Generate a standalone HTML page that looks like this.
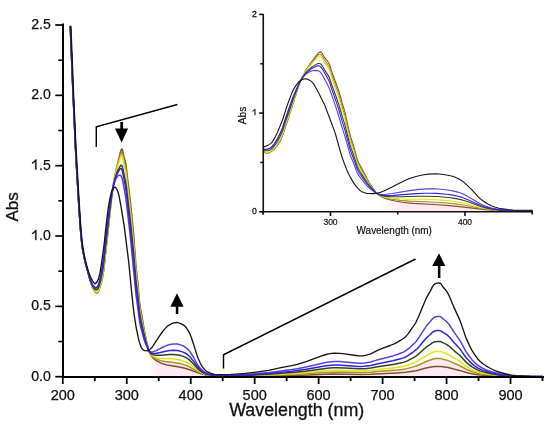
<!DOCTYPE html>
<html><head><meta charset="utf-8">
<style>
html,body{margin:0;padding:0;background:#fff;}
body{width:550px;height:426px;overflow:hidden;position:relative;font-family:"Liberation Sans",sans-serif;}
svg{position:absolute;left:0;top:0;will-change:transform;}
.t{font-family:"Liberation Sans",sans-serif;fill:#111;}
</style></head><body>
<svg width="550" height="426" viewBox="0 0 550 426">
<rect width="550" height="426" fill="#fff"/>
<g fill="none" stroke-width="1.5" stroke-linejoin="round" stroke-linecap="round">
<defs><linearGradient id="hzm" gradientUnits="userSpaceOnUse" x1="149.1" y1="0" x2="497.7" y2="0"><stop offset="0" stop-color="#fbe2ee" stop-opacity="0"/><stop offset="0.028" stop-color="#fbe2ee" stop-opacity="0.75"/><stop offset="0.945" stop-color="#fbe2ee" stop-opacity="0.75"/><stop offset="1" stop-color="#fbe2ee" stop-opacity="0"/></linearGradient><linearGradient id="hzi" gradientUnits="userSpaceOnUse" x1="378.9" y1="0" x2="532.2" y2="0"><stop offset="0" stop-color="#fbe2ee" stop-opacity="0"/><stop offset="0.15" stop-color="#fbe2ee" stop-opacity="0.75"/><stop offset="0.8" stop-color="#fbe2ee" stop-opacity="0.75"/><stop offset="1" stop-color="#fbe2ee" stop-opacity="0"/></linearGradient></defs><path d="M149.1 376.7L149.1 351.6L151.1 354.9L152.3 356.5L154.9 358.2L158.1 359.7L163.9 361.4L176.6 362.9L183.0 364.4L189.4 366.8L198.4 371.9L202.9 373.8L207.3 375.0L215.0 375.9L232.9 376.3L267.5 375.5L296.9 374.3L332.1 372.1L360.2 372.6L371.1 372.2L396.7 370.1L406.3 368.8L416.5 365.9L426.1 361.5L432.5 359.2L435.0 358.6L438.2 358.5L440.8 358.6L448.5 360.7L459.4 365.5L467.0 369.6L474.7 372.4L483.7 374.3L497.1 375.7L497.1 376.7 Z" fill="url(#hzm)" stroke="none"/>
<path d="M70.3 26.5L73.0 92.3L75.5 147.7L76.4 164.3L79.1 209.4L80.5 229.5L81.8 243.0L82.5 248.2L83.3 253.1L84.4 258.1L85.6 263.5L87.4 269.7L89.4 278.0L90.6 282.2L92.6 287.6L94.5 291.2L95.0 292.0L96.1 292.7L96.8 293.0L97.3 292.8L97.9 292.1L98.9 290.4L100.2 286.7L101.5 282.1L102.5 277.8L104.1 267.6L105.3 255.3L106.9 241.9L111.4 199.3L112.4 191.2L113.3 184.7L114.6 177.3L115.9 171.0L120.0 153.6L120.7 151.3L121.3 149.6L121.6 149.1L122.0 148.9L122.3 149.3L122.9 151.6L123.9 156.4L125.5 162.5L126.1 165.7L127.7 180.0L130.6 203.6L133.5 233.0L136.0 266.7L138.0 284.6L139.2 299.4L140.2 307.0L145.0 334.1L148.5 349.8L149.5 352.5L151.4 356.0L152.7 357.6L154.9 359.6L157.1 361.0L159.7 362.4L162.3 363.6L164.5 364.3L167.1 364.9L177.9 366.7L183.0 367.8L188.2 369.3L199.4 373.3L205.1 374.9L207.3 375.3L211.5 375.8L218.2 376.2L224.6 376.4L233.6 376.4L267.8 376.0L296.9 375.4L332.1 374.1L360.5 374.4L370.8 374.2L396.7 372.9L405.9 372.3L416.2 370.7L426.1 368.1L432.5 366.8L435.0 366.5L438.2 366.4L441.1 366.5L448.2 367.6L459.4 370.4L465.7 372.3L469.3 373.2L474.7 374.3L480.5 375.1L492.6 375.9L506.0 376.4L516.0 376.6L542.5 376.7" stroke="#7e5232"/>
<path d="M70.3 26.5L73.0 92.3L75.5 147.7L76.4 164.3L79.1 209.4L80.5 229.5L81.7 242.5L82.4 247.8L83.3 252.8L84.3 257.8L85.6 263.3L90.5 281.6L92.3 286.7L94.1 290.3L94.8 291.3L95.5 291.9L96.4 292.3L97.1 292.3L97.7 291.7L98.7 290.1L99.7 287.4L101.0 282.9L102.1 278.3L103.1 273.0L104.1 266.4L111.4 199.0L112.4 191.2L113.3 184.8L115.2 174.7L117.5 165.4L120.7 154.0L121.3 152.7L121.6 152.3L122.0 152.3L122.3 152.8L122.9 155.2L123.9 160.2L125.8 168.4L126.4 172.5L127.4 181.8L130.9 211.8L132.2 226.0L133.5 238.4L136.0 271.0L138.0 288.3L139.2 302.5L139.9 307.7L145.0 335.4L148.5 349.9L149.5 352.3L150.7 354.5L152.0 356.2L153.3 357.2L155.2 358.4L157.1 359.3L160.0 360.4L162.6 361.1L165.1 361.6L171.2 362.2L177.0 363.0L180.2 363.6L183.7 364.6L186.2 365.4L189.1 366.7L193.9 369.3L198.1 371.7L200.0 372.6L202.9 373.8L205.4 374.6L207.3 375.0L211.8 375.7L215.7 376.0L223.3 376.2L233.3 376.2L267.8 375.5L296.9 374.3L326.0 372.4L331.8 372.2L339.7 372.1L360.5 372.6L370.8 372.3L377.5 371.6L396.7 370.1L401.8 369.5L405.9 368.9L413.3 366.9L416.2 366.0L418.7 365.0L426.1 361.5L432.5 359.2L435.0 358.6L438.2 358.5L441.1 358.6L442.1 359.0L445.9 359.9L448.2 360.6L459.4 365.5L465.7 369.0L469.3 370.5L472.1 371.6L474.7 372.4L477.6 373.2L480.5 373.8L485.9 374.6L492.6 375.3L498.7 375.8L506.0 376.2L516.0 376.5L542.5 376.7" stroke="#aa9028"/>
<path d="M70.3 26.5L73.0 92.3L75.5 147.7L76.4 164.3L79.1 209.4L80.5 229.5L81.7 242.5L82.4 247.8L83.3 252.8L84.3 257.8L85.6 263.3L90.4 281.4L92.2 286.3L93.9 289.8L94.6 290.8L95.2 291.4L96.2 292.0L97.0 292.0L97.5 291.6L98.2 290.6L98.9 289.3L99.4 287.8L100.7 283.5L101.8 279.0L102.8 274.0L103.7 267.8L111.1 201.4L112.4 191.1L113.3 185.0L115.2 175.4L117.5 166.7L120.4 157.5L121.0 156.1L121.3 155.7L121.6 155.6L122.0 155.7L122.3 156.3L122.9 158.8L123.9 164.0L125.8 172.8L126.4 177.1L130.9 217.1L133.8 247.4L136.0 275.2L138.0 292.0L139.2 305.5L139.9 310.5L140.5 314.3L144.7 335.2L145.6 339.3L148.2 348.8L148.8 350.8L149.8 352.6L151.1 354.4L152.3 355.6L153.9 356.5L155.5 357.2L157.5 357.7L160.0 358.2L163.5 358.6L170.9 358.8L176.0 359.3L180.2 360.1L184.3 361.4L186.9 362.5L189.8 364.1L193.9 367.2L197.8 370.3L199.7 371.6L202.9 373.2L206.7 374.6L211.2 375.4L215.7 375.8L223.3 376.1L233.3 376.1L263.6 375.2L292.7 373.7L304.6 372.8L321.5 371.1L329.8 370.5L337.5 370.3L358.6 371.0L364.7 371.0L370.8 370.5L378.1 369.5L392.5 368.0L401.8 366.7L405.3 366.0L407.5 365.3L413.9 362.9L416.5 361.7L418.7 360.4L426.1 355.6L432.5 352.3L435.0 351.6L437.3 351.4L439.2 351.4L441.1 351.6L442.1 352.1L445.9 353.3L448.2 354.3L454.2 358.1L459.4 361.1L465.7 366.0L469.3 368.2L472.1 369.7L474.7 370.8L477.6 371.8L480.5 372.7L485.9 373.8L492.6 374.8L498.7 375.4L506.0 376.0L516.0 376.4L542.5 376.7" stroke="#e2e214"/>
<path d="M70.3 26.5L73.0 92.3L75.5 147.7L76.4 164.3L79.1 209.4L80.5 229.5L81.7 242.5L82.4 247.8L83.3 252.8L84.3 257.8L85.6 263.3L90.0 279.6L91.6 283.8L93.1 286.9L94.0 288.4L94.7 289.2L95.4 289.7L96.3 289.8L97.0 289.6L97.5 289.1L98.3 287.9L98.9 286.4L100.3 281.9L101.5 276.6L102.8 269.5L103.7 263.2L109.2 215.0L111.7 195.0L113.0 187.3L114.0 182.7L115.2 177.7L116.2 174.7L117.5 171.3L118.1 169.9L120.4 165.9L121.0 165.3L121.3 165.2L121.6 165.4L122.0 165.7L122.3 166.4L122.9 169.0L125.5 181.4L126.4 187.3L130.9 225.9L132.2 239.4L133.5 251.3L136.0 281.3L138.0 297.3L139.2 309.8L139.9 314.5L140.5 318.0L143.4 331.5L145.0 338.3L145.9 341.8L148.2 349.0L148.8 350.7L150.1 352.6L151.7 354.2L152.7 354.6L153.9 355.0L157.1 355.3L161.6 355.2L169.0 354.5L173.8 354.5L177.9 354.9L180.8 355.6L183.4 356.4L185.0 357.1L186.6 357.9L189.8 360.2L193.9 364.4L197.8 368.7L200.6 371.1L202.6 372.3L204.5 373.3L206.4 374.1L208.0 374.5L211.5 375.2L214.4 375.6L221.7 375.9L233.6 375.8L251.8 375.2L268.8 374.3L295.0 372.3L304.9 371.2L321.5 368.9L329.5 368.0L333.7 367.8L337.2 367.8L344.5 368.1L358.6 368.8L361.8 368.8L365.3 368.7L370.8 368.1L377.8 366.8L394.4 364.2L399.2 363.3L402.7 362.5L405.6 361.6L407.9 360.6L413.9 357.4L416.5 355.8L418.7 353.9L426.1 347.2L430.3 344.4L432.5 342.7L433.8 342.1L435.0 341.7L437.3 341.4L439.2 341.4L441.1 341.7L442.1 342.4L445.9 344.1L448.2 345.5L449.8 346.8L454.2 350.8L459.4 355.0L461.0 356.6L465.7 361.8L469.3 364.8L472.1 366.9L474.7 368.4L477.6 369.9L480.5 371.1L485.9 372.6L492.6 374.0L498.7 374.9L506.0 375.7L516.0 376.3L530.0 376.6L542.5 376.6" stroke="#2e4426"/>
<path d="M70.3 26.5L73.0 92.3L75.5 147.7L76.4 164.3L79.0 208.4L80.5 228.6L81.7 241.9L82.4 247.4L83.1 252.1L84.1 257.0L85.4 262.5L89.7 278.2L91.0 281.8L92.5 285.0L94.2 287.2L95.0 287.9L95.5 288.0L96.6 287.7L97.2 287.2L97.9 286.2L98.6 284.8L99.6 281.4L100.9 275.8L102.1 269.2L103.4 261.0L104.1 256.2L105.3 243.8L108.9 213.9L111.1 198.1L112.4 190.5L113.3 186.4L114.6 182.0L115.6 179.5L116.5 177.7L117.8 175.9L118.4 175.5L119.4 175.2L120.0 175.2L120.7 175.5L121.0 175.8L122.0 177.8L122.6 180.3L125.2 194.3L126.4 202.6L130.3 236.5L136.0 294.6L139.6 321.5L140.2 324.9L141.2 328.9L143.1 336.1L144.3 340.3L145.6 343.8L148.2 349.5L148.8 350.5L149.5 351.1L150.4 351.7L151.4 352.0L152.0 352.1L153.0 351.9L156.2 350.6L163.2 347.0L165.8 345.9L168.3 344.9L171.2 344.3L173.8 344.0L177.0 344.1L179.5 344.6L181.8 345.4L184.0 346.3L185.6 347.3L187.5 348.9L189.4 350.9L191.0 353.2L193.9 358.0L198.1 365.5L200.3 368.3L202.6 370.6L205.4 372.6L207.7 373.7L212.5 374.8L216.6 375.3L226.2 375.4L235.8 375.1L253.7 373.9L269.4 372.5L280.9 370.9L291.8 369.6L297.2 368.8L306.2 367.0L325.7 362.5L328.6 362.0L331.4 361.7L335.3 361.5L339.7 361.6L344.5 361.9L359.3 363.3L361.8 363.3L364.7 363.0L370.8 362.0L375.6 360.4L378.1 359.7L392.8 355.9L397.3 354.5L400.5 353.3L403.4 352.1L405.6 350.9L407.9 349.2L413.0 344.6L414.9 342.8L416.2 341.4L418.7 337.8L426.1 326.4L427.4 324.8L430.3 321.6L432.5 318.7L433.8 317.6L435.0 316.9L437.3 316.4L438.9 316.4L440.2 316.6L441.1 316.9L442.1 318.1L445.9 321.0L448.2 323.4L449.8 325.5L454.2 332.4L459.4 339.6L461.0 342.3L465.7 351.2L469.3 356.3L472.1 359.9L474.7 362.6L477.6 365.1L480.5 367.0L483.0 368.4L485.9 369.7L492.6 372.1L498.7 373.7L506.0 375.0L511.5 375.7L516.0 376.0L530.0 376.5L542.5 376.6" stroke="#5e3ee2"/>
<path d="M70.3 26.5L73.0 92.3L75.5 147.7L76.4 164.3L79.1 209.4L80.5 229.5L81.7 242.5L82.4 247.8L83.3 252.8L84.2 257.6L85.5 263.0L89.8 278.4L91.2 282.2L92.7 285.1L94.3 287.2L95.1 287.7L95.7 287.8L96.7 287.4L97.3 287.0L98.0 285.9L98.7 284.4L100.0 280.1L101.0 275.2L102.1 269.3L103.4 261.2L104.1 256.5L105.3 244.2L108.9 214.7L111.1 198.6L112.4 190.6L113.3 186.1L114.6 181.1L115.6 178.1L116.8 174.8L117.8 172.6L119.7 169.4L120.7 168.6L121.0 168.6L121.3 168.8L121.6 169.1L122.3 170.6L122.9 173.4L125.5 186.9L126.4 193.1L130.9 233.1L133.8 262.3L136.0 287.2L138.0 302.5L139.6 316.4L140.5 321.6L142.8 331.3L144.0 336.5L145.3 341.0L148.5 350.0L149.5 351.5L150.7 352.7L151.7 353.3L152.3 353.5L153.6 353.6L155.5 353.5L160.3 352.5L168.0 350.7L170.6 350.4L172.8 350.2L177.3 350.5L179.8 351.1L182.4 351.9L184.3 352.6L185.9 353.5L187.5 354.7L189.4 356.3L191.0 358.1L193.9 361.8L198.1 367.6L200.3 369.8L202.6 371.6L205.1 373.1L207.3 374.0L211.8 375.0L216.0 375.5L224.6 375.7L235.2 375.5L253.1 374.6L269.1 373.5L291.8 371.3L297.2 370.6L306.2 369.3L326.0 365.8L328.6 365.4L331.8 365.2L334.9 365.1L338.5 365.1L344.5 365.4L358.3 366.4L361.2 366.4L364.1 366.3L370.8 365.5L378.1 363.7L392.8 360.8L400.5 358.8L403.4 357.9L405.6 357.0L407.9 355.7L413.0 352.2L416.2 349.7L418.7 346.9L426.1 338.2L430.3 334.5L432.5 332.3L433.8 331.5L435.0 330.9L437.3 330.6L438.9 330.6L441.1 330.9L442.1 331.9L445.9 334.1L448.2 335.9L449.8 337.6L454.2 342.8L459.4 348.3L461.0 350.4L465.7 357.2L469.3 361.1L472.1 363.9L474.7 365.9L477.6 367.8L480.5 369.3L483.0 370.4L485.9 371.3L492.6 373.1L498.7 374.4L506.0 375.4L511.5 375.9L516.0 376.2L530.0 376.5L542.5 376.6" stroke="#3224d8"/>
<path d="M70.9 26.5L73.5 92.3L76.0 147.7L79.3 204.3L80.7 225.3L81.9 239.6L83.2 249.5L85.0 258.7L86.8 266.0L88.3 271.2L90.2 276.2L91.6 279.2L92.5 280.8L94.2 283.2L94.8 283.7L95.2 283.8L95.7 283.4L97.0 281.8L98.2 279.7L98.9 277.5L100.0 272.8L101.5 263.6L104.1 244.8L105.7 229.4L107.9 210.8L108.9 204.1L109.8 199.0L111.4 192.5L112.0 190.5L112.7 189.3L114.0 187.6L114.6 187.2L114.9 187.1L115.6 187.4L116.5 188.7L117.8 191.2L118.4 193.3L119.1 196.2L121.0 206.3L124.2 226.1L128.7 261.9L131.6 291.9L133.2 306.6L134.4 316.3L136.0 326.5L138.3 337.9L138.9 340.5L139.9 343.6L140.8 346.3L141.5 347.6L142.8 349.4L143.7 350.3L144.3 350.5L145.3 350.7L147.5 350.8L148.8 350.2L150.4 349.0L151.4 348.1L152.7 346.4L159.1 336.6L162.3 332.0L164.2 329.6L166.1 327.6L168.7 325.3L171.9 323.5L173.8 322.9L177.0 322.5L177.9 322.7L180.8 323.6L182.7 324.6L184.3 325.6L185.3 326.5L186.2 327.6L188.8 331.6L190.1 334.3L191.4 337.7L194.2 346.2L196.8 354.6L198.1 358.3L200.3 363.3L201.6 365.7L202.6 367.1L205.1 370.1L206.4 371.2L207.3 371.9L211.2 373.4L214.7 374.3L216.9 374.6L222.1 374.6L231.0 374.4L236.1 374.1L245.1 373.4L252.1 372.6L261.4 371.4L268.8 370.3L280.9 367.7L291.8 365.7L297.2 364.4L306.2 361.7L320.2 356.4L326.0 354.5L328.6 353.8L331.8 353.3L335.3 353.1L340.1 353.3L344.5 353.8L356.1 355.5L359.6 355.8L362.8 355.8L366.3 355.2L370.8 353.9L375.6 351.4L378.1 350.2L382.9 348.2L390.3 345.5L393.5 344.1L397.6 342.1L400.8 340.2L403.7 338.3L405.9 336.4L407.9 334.1L413.3 326.4L414.9 324.0L416.2 321.8L418.7 316.3L426.1 298.6L427.4 296.1L430.3 291.1L432.5 286.6L433.8 284.9L435.0 283.8L437.0 283.2L438.6 283.0L439.8 283.2L441.1 283.8L442.1 285.7L443.0 287.0L445.9 290.2L448.2 293.9L449.8 297.3L454.2 307.9L459.4 319.1L461.0 323.3L465.7 337.1L469.3 345.1L472.1 350.7L474.7 354.7L477.6 358.7L479.2 360.5L480.5 361.7L483.0 363.8L485.9 365.8L488.8 367.5L492.6 369.5L495.8 370.9L498.7 372.0L506.0 374.0L511.5 375.1L516.0 375.7L530.0 376.4L542.5 376.6" stroke="#161616" stroke-width="1.35"/>
</g>
<g stroke="#000" stroke-width="2" fill="none">
<line x1="63" y1="23.5" x2="63" y2="378" /><line x1="62" y1="377" x2="544" y2="377" /><line x1="55.3" y1="376.70" x2="63" y2="376.70" stroke-width="1.7"/><line x1="58.3" y1="341.53" x2="63" y2="341.53" stroke-width="1.6"/><line x1="55.3" y1="306.36" x2="63" y2="306.36" stroke-width="1.7"/><line x1="58.3" y1="271.19" x2="63" y2="271.19" stroke-width="1.6"/><line x1="55.3" y1="236.02" x2="63" y2="236.02" stroke-width="1.7"/><line x1="58.3" y1="200.85" x2="63" y2="200.85" stroke-width="1.6"/><line x1="55.3" y1="165.68" x2="63" y2="165.68" stroke-width="1.7"/><line x1="58.3" y1="130.51" x2="63" y2="130.51" stroke-width="1.6"/><line x1="55.3" y1="95.34" x2="63" y2="95.34" stroke-width="1.7"/><line x1="58.3" y1="60.17" x2="63" y2="60.17" stroke-width="1.6"/><line x1="55.3" y1="25.00" x2="63" y2="25.00" stroke-width="1.7"/><line x1="62.80" y1="377" x2="62.80" y2="384" stroke-width="1.8"/><line x1="94.78" y1="377" x2="94.78" y2="381" stroke-width="1.8"/><line x1="126.76" y1="377" x2="126.76" y2="384" stroke-width="1.8"/><line x1="158.74" y1="377" x2="158.74" y2="381" stroke-width="1.8"/><line x1="190.72" y1="377" x2="190.72" y2="384" stroke-width="1.8"/><line x1="222.70" y1="377" x2="222.70" y2="381" stroke-width="1.8"/><line x1="254.68" y1="377" x2="254.68" y2="384" stroke-width="1.8"/><line x1="286.66" y1="377" x2="286.66" y2="381" stroke-width="1.8"/><line x1="318.64" y1="377" x2="318.64" y2="384" stroke-width="1.8"/><line x1="350.62" y1="377" x2="350.62" y2="381" stroke-width="1.8"/><line x1="382.60" y1="377" x2="382.60" y2="384" stroke-width="1.8"/><line x1="414.58" y1="377" x2="414.58" y2="381" stroke-width="1.8"/><line x1="446.56" y1="377" x2="446.56" y2="384" stroke-width="1.8"/><line x1="478.54" y1="377" x2="478.54" y2="381" stroke-width="1.8"/><line x1="510.52" y1="377" x2="510.52" y2="384" stroke-width="1.8"/><line x1="542.50" y1="377" x2="542.50" y2="381" stroke-width="1.8"/>
</g>
<g fill="none" stroke-width="1.1" stroke-linejoin="round" stroke-linecap="round">
<path d="M378.9 211.8L378.9 195.1L383.0 197.1L386.3 198.1L392.4 199.3L401.1 200.4L409.9 201.1L436.8 202.2L451.5 203.4L463.0 205.0L483.2 208.7L496.6 210.4L512.7 211.2L531.6 211.5L531.6 211.8 Z" fill="url(#hzi)" stroke="none"/>
<path d="M263.2 152.1L265.9 152.9L268.0 153.1L269.3 152.7L271.3 151.6L273.0 150.3L275.7 147.5L277.7 145.0L279.4 142.4L281.4 138.4L283.1 134.3L285.4 126.6L287.8 120.2L289.1 116.2L298.2 87.3L299.9 82.6L301.6 78.5L303.3 75.0L305.3 71.3L307.6 67.5L310.3 63.5L317.7 53.6L318.7 52.7L319.4 52.3L320.1 52.0L320.7 52.1L321.4 52.5L322.1 53.3L324.4 57.2L327.8 61.5L329.2 63.8L329.8 65.4L332.5 73.8L338.6 90.4L339.6 93.6L342.3 103.5L343.9 108.7L345.0 112.3L348.7 129.1L350.0 134.6L351.0 138.0L354.0 147.2L356.7 157.6L357.7 160.6L359.4 164.2L362.1 169.1L366.8 178.3L369.2 182.5L375.9 192.5L376.9 193.7L378.2 194.8L380.6 196.3L383.0 197.6L385.0 198.4L388.0 199.3L391.7 200.3L396.4 201.2L402.5 202.2L407.5 202.9L413.6 203.4L437.8 204.7L448.9 205.6L459.3 206.6L483.2 209.4L496.3 210.6L512.4 211.3L532.2 211.6" stroke="#7e5232"/>
<path d="M263.2 151.8L265.9 152.5L268.0 152.6L269.3 152.2L271.3 151.1L273.0 149.8L275.4 147.3L277.4 144.8L279.1 142.2L281.1 138.4L283.1 133.5L285.1 126.8L288.8 116.4L293.2 102.5L297.9 88.1L299.9 82.5L301.6 78.6L303.6 74.6L305.6 71.1L308.0 67.6L310.3 64.4L317.4 55.9L318.4 55.0L319.1 54.6L319.7 54.4L320.4 54.4L321.1 54.7L322.1 55.9L324.8 60.4L328.1 65.1L329.2 66.9L329.8 68.6L331.8 75.0L337.9 92.0L339.2 96.1L342.3 107.3L345.0 116.0L348.7 132.3L350.0 137.6L351.0 140.9L354.0 149.8L356.7 159.7L357.7 162.6L359.4 166.1L362.1 170.8L365.8 177.6L368.8 182.8L370.5 185.3L375.9 192.6L376.6 193.3L377.6 194.2L379.3 195.3L381.6 196.5L383.3 197.3L385.0 197.8L388.0 198.5L391.7 199.2L400.4 200.4L409.9 201.1L436.8 202.2L451.2 203.4L456.9 204.1L463.0 205.0L483.5 208.8L490.2 209.7L496.9 210.4L503.7 210.8L513.1 211.2L532.2 211.5" stroke="#aa9028"/>
<path d="M263.2 151.7L265.9 152.3L268.0 152.4L269.3 152.0L271.3 150.8L273.0 149.5L275.4 146.9L277.0 144.7L278.7 142.2L280.7 138.4L282.8 133.7L285.4 125.0L288.5 116.6L293.2 101.8L297.5 88.8L299.6 83.2L301.6 78.7L303.6 74.8L305.6 71.6L308.0 68.2L310.7 64.8L315.7 59.4L317.4 57.7L318.4 57.0L319.1 56.8L319.7 56.7L320.4 56.7L321.1 57.1L322.1 58.4L324.8 63.1L328.1 68.1L329.2 70.1L329.8 71.7L331.8 78.2L337.6 94.6L339.2 99.8L342.3 111.0L345.0 119.7L348.7 135.4L350.0 140.6L351.0 143.8L354.0 152.4L356.4 160.8L357.4 163.8L359.4 168.0L365.5 178.3L368.5 183.2L370.5 186.0L375.6 192.2L376.6 193.3L377.2 193.9L378.6 194.7L380.6 195.7L383.6 196.9L387.3 197.6L392.4 198.2L399.8 198.8L405.8 199.1L424.0 199.3L436.1 199.7L445.2 200.4L453.6 201.3L458.6 202.1L463.7 203.1L472.1 205.2L479.1 207.2L482.8 208.0L489.2 209.2L495.6 210.0L501.0 210.5L512.1 211.0L532.2 211.4" stroke="#e2e214"/>
<path d="M263.2 150.5L264.9 150.8L267.3 150.8L268.6 150.5L270.0 149.9L271.7 148.8L272.7 147.8L274.7 145.4L276.7 142.6L278.0 140.4L279.7 137.3L282.4 131.3L283.4 128.4L285.4 121.8L288.5 113.3L293.5 98.4L298.2 86.0L299.6 82.8L300.9 80.1L302.9 76.7L304.9 73.9L307.3 71.1L309.7 68.8L312.0 66.9L316.7 64.1L318.4 63.5L319.7 63.5L320.7 64.0L321.4 64.7L322.1 65.6L324.4 69.6L328.1 75.4L329.2 77.3L329.8 78.9L331.8 85.0L336.6 98.0L338.9 104.9L342.3 116.6L345.0 125.1L348.7 140.0L350.0 144.8L351.0 147.9L354.0 156.1L356.4 163.9L357.4 166.7L358.4 168.8L359.8 171.2L365.1 179.6L367.8 183.5L370.5 186.9L375.6 192.4L376.9 193.6L379.3 194.8L382.6 195.9L385.0 196.3L389.0 196.6L393.7 196.8L401.1 196.8L418.9 196.2L428.0 196.2L437.4 196.5L448.5 197.5L454.9 198.4L462.0 199.9L467.4 201.6L480.8 206.5L486.9 208.1L492.6 209.2L499.6 210.1L509.7 210.8L518.1 211.1L532.2 211.2" stroke="#2e4426"/>
<path d="M263.2 149.3L264.9 149.6L267.6 149.2L269.3 148.6L271.0 147.6L272.3 146.3L274.3 143.8L275.7 141.8L277.4 139.0L280.4 132.9L282.4 128.2L285.8 117.6L291.8 100.3L293.5 95.9L298.2 85.0L299.6 82.3L300.9 80.2L302.9 77.4L304.9 75.2L306.6 73.7L308.6 72.3L311.0 71.2L312.3 70.7L315.7 70.4L317.7 70.6L319.1 71.2L320.1 71.9L320.7 72.6L321.8 74.0L327.1 83.8L329.5 88.8L335.2 105.1L337.9 113.4L342.3 128.4L345.0 136.7L349.7 153.2L351.0 157.0L354.0 164.3L356.4 170.7L357.4 173.1L358.7 175.4L360.1 177.4L364.1 182.5L366.1 184.9L369.8 188.5L375.6 192.7L376.9 193.4L378.9 194.0L381.6 194.4L384.0 194.5L392.0 193.5L409.5 190.6L419.6 189.4L427.3 188.9L434.1 188.9L437.8 189.0L445.5 189.7L450.9 190.5L453.9 191.1L457.6 192.1L462.0 193.6L464.3 194.6L467.4 196.2L472.7 199.3L478.4 202.8L480.8 204.1L486.5 206.4L491.6 208.0L495.6 208.9L499.0 209.5L508.7 210.4L518.1 210.8L532.2 210.9" stroke="#5e3ee2"/>
<path d="M263.2 149.2L264.9 149.4L267.6 149.1L269.3 148.5L271.0 147.5L272.3 146.3L274.3 143.8L276.0 141.3L277.7 138.4L280.7 132.3L282.8 127.5L285.8 117.8L291.8 100.8L293.8 95.6L298.9 83.9L300.2 81.3L301.9 78.6L303.9 75.8L306.0 73.4L308.3 71.2L311.0 69.1L312.3 68.2L315.7 66.4L317.7 65.8L319.1 65.9L320.1 66.3L320.7 66.8L322.1 68.6L327.8 78.6L329.2 81.3L329.8 83.0L331.8 89.2L336.2 101.7L338.9 110.0L342.3 121.9L345.0 130.4L348.7 144.4L350.0 149.0L351.3 152.8L354.0 159.7L356.4 166.9L357.4 169.5L358.4 171.5L359.8 173.7L364.8 180.9L367.2 184.0L370.5 187.8L375.6 192.5L376.6 193.3L378.2 194.1L381.3 195.1L383.6 195.5L386.0 195.6L393.4 195.4L416.2 193.6L425.0 193.3L429.7 193.2L436.4 193.4L446.8 194.3L451.2 194.9L454.2 195.4L457.9 196.2L462.0 197.4L467.4 199.5L480.8 205.5L486.5 207.4L491.9 208.7L499.3 209.9L509.0 210.6L518.1 211.0L532.2 211.1" stroke="#3224d8"/>
<path d="M263.2 146.5L264.3 146.6L265.6 146.2L268.6 144.9L270.6 143.6L271.3 143.0L272.3 141.8L275.0 137.4L277.4 132.5L282.1 121.1L283.1 118.3L286.8 106.5L291.2 94.6L292.8 90.7L295.2 86.6L298.2 82.5L299.2 81.5L300.2 80.7L302.3 79.6L303.9 79.0L305.3 78.8L306.6 78.9L308.6 79.7L311.3 81.4L312.3 82.3L313.4 83.6L314.7 85.7L317.7 91.0L323.4 102.5L324.8 105.3L326.1 108.7L334.2 130.3L335.9 135.5L338.9 146.5L341.6 155.6L344.3 163.5L346.6 169.4L348.7 173.9L350.7 177.9L354.4 184.1L356.1 186.4L357.7 188.2L359.8 190.2L361.4 191.4L364.5 192.8L366.8 193.4L373.9 193.6L376.9 193.2L380.6 192.3L383.3 191.3L391.7 187.2L398.8 183.5L405.5 180.3L409.5 178.6L415.9 176.5L418.9 175.7L422.3 175.0L425.7 174.5L428.7 174.1L436.4 173.8L441.8 174.3L447.9 175.2L452.6 176.2L454.6 176.9L456.9 178.0L461.6 180.6L464.0 182.3L467.0 185.1L472.4 190.4L477.8 196.3L480.5 198.9L483.2 201.0L486.2 203.0L488.9 204.6L491.2 205.7L495.3 207.2L499.0 208.2L501.3 208.6L507.7 209.5L513.1 210.0L518.1 210.3L532.2 210.3" stroke="#161616"/>
</g>
<g stroke="#111" stroke-width="1.6" fill="none">
<line x1="263.25" y1="14" x2="263.25" y2="214.5" /><line x1="262.5" y1="211.8" x2="533" y2="211.8" /><line x1="259.2" y1="211.80" x2="263.25" y2="211.80"/><line x1="260.3" y1="162.45" x2="263.25" y2="162.45"/><line x1="259.2" y1="113.10" x2="263.25" y2="113.10"/><line x1="260.3" y1="63.75" x2="263.25" y2="63.75"/><line x1="259.2" y1="14.40" x2="263.25" y2="14.40"/><line x1="263.25" y1="211.8" x2="263.25" y2="214.5"/><line x1="330.50" y1="211.8" x2="330.50" y2="216"/><line x1="397.75" y1="211.8" x2="397.75" y2="214.5"/><line x1="465.00" y1="211.8" x2="465.00" y2="216"/><line x1="532.25" y1="211.8" x2="532.25" y2="214.5"/>
</g>
<!-- brackets -->
<g stroke="#000" stroke-width="1.45" fill="none">
<polyline points="96.3,147 96.3,126.8 177.4,104.5"/>
<polyline points="223.5,368.5 223.5,354.8 415.5,259"/>
</g>
<!-- arrows -->
<g fill="#000" stroke="none">
<rect x="120.3" y="122" width="2.8" height="7"/>
<polygon points="115,128.5 128.1,128.5 121.6,142.5"/>
<rect x="175.8" y="306" width="2.5" height="8"/>
<polygon points="170.4,306.8 183.5,306.8 177,293.2"/>
<rect x="437.9" y="265" width="2.5" height="13"/>
<polygon points="432.2,265.9 445.3,265.9 439,253.3"/>
</g>
<!-- main labels -->
<g class="t" font-size="14.6" text-anchor="end" stroke="#111" stroke-width="0.25">
<text x="50.8" y="28.6" textLength="19.6" lengthAdjust="spacingAndGlyphs">2.5</text>
<text x="50.8" y="99.1" textLength="19.6" lengthAdjust="spacingAndGlyphs">2.0</text>
<path d="M763,0 L583,0 L583,1100 C520,1040 437,985 334,930 C250,885 185,857 125,838 L125,1000 C260,1066 370,1150 460,1245 C540,1330 600,1380 640,1420 L763,1420 Z" transform="translate(31.20,169.60) scale(0.006885,-0.007129)" vector-effect="non-scaling-stroke"/><text x="50.8" y="169.6" textLength="11.76" lengthAdjust="spacingAndGlyphs">.5</text>
<path d="M763,0 L583,0 L583,1100 C520,1040 437,985 334,930 C250,885 185,857 125,838 L125,1000 C260,1066 370,1150 460,1245 C540,1330 600,1380 640,1420 L763,1420 Z" transform="translate(31.20,240.10) scale(0.006885,-0.007129)" vector-effect="non-scaling-stroke"/><text x="50.8" y="240.1" textLength="11.76" lengthAdjust="spacingAndGlyphs">.0</text>
<text x="50.8" y="309.9" textLength="19.6" lengthAdjust="spacingAndGlyphs">0.5</text>
<text x="50.8" y="380.6" textLength="19.6" lengthAdjust="spacingAndGlyphs">0.0</text>
</g>
<g class="t" font-size="14.5" text-anchor="middle" stroke="#111" stroke-width="0.25">
<text x="62.8" y="400">200</text>
<text x="126.8" y="400">300</text>
<text x="190.7" y="400">400</text>
<text x="254.7" y="400">500</text>
<text x="318.6" y="400">600</text>
<text x="382.6" y="400">700</text>
<text x="446.5" y="400">800</text>
<text x="510.5" y="400">900</text>
</g>
<text class="t" font-size="17.5" x="229.2" y="416.3" textLength="135" lengthAdjust="spacingAndGlyphs" stroke="#111" stroke-width="0.3">Wavelength (nm)</text>
<text class="t" font-size="17" transform="translate(18.1,221.5) rotate(-90)" stroke="#111" stroke-width="0.3">Abs</text>
<!-- inset labels -->
<g class="t" font-size="8.7" text-anchor="end" stroke="#111" stroke-width="0.3">
<text x="256.9" y="17">2</text>
<path d="M763,0 L583,0 L583,1100 C520,1040 437,985 334,930 C250,885 185,857 125,838 L125,1000 C260,1066 370,1150 460,1245 C540,1330 600,1380 640,1420 L763,1420 Z" transform="translate(252.1,115) scale(0.004248,-0.004248)" vector-effect="non-scaling-stroke"/>
<text x="256.9" y="213.9">0</text>
</g>
<g class="t" font-size="8.5" text-anchor="middle" stroke="#111" stroke-width="0.2">
<text x="330.5" y="225">300</text>
<text x="465" y="225">400</text>
</g>
<text class="t" font-size="10.3" x="356.6" y="234.1" textLength="75.3" lengthAdjust="spacingAndGlyphs" stroke="#111" stroke-width="0.2">Wavelength (nm)</text>
<text class="t" font-size="10.2" transform="translate(245.8,124.3) rotate(-90)" stroke="#111" stroke-width="0.2">Abs</text>
</svg>
</body></html>
